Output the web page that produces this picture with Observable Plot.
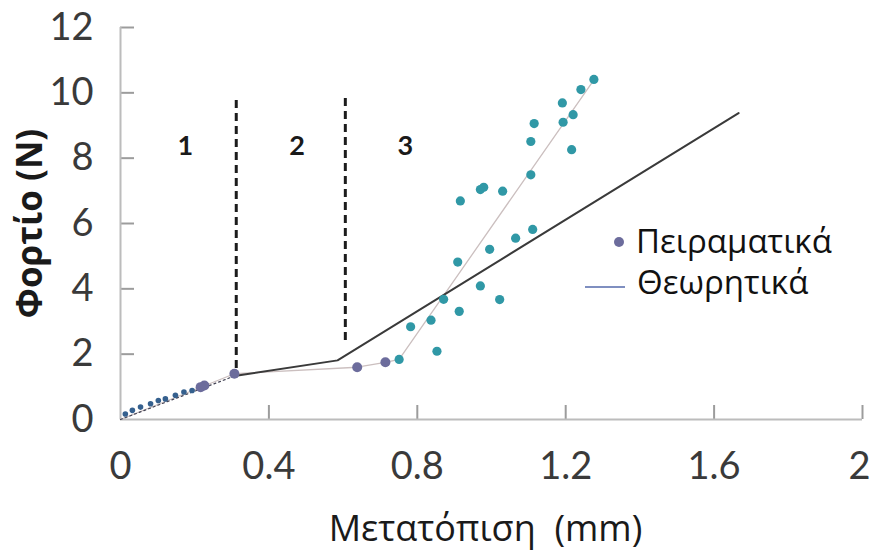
<!DOCTYPE html>
<html><head><meta charset="utf-8">
<script src="https://cdn.jsdelivr.net/npm/d3@7"></script>
<script src="https://cdn.jsdelivr.net/npm/@observablehq/plot@0.6"></script>
<style>
body{margin:0;background:#fff}
#wrap{position:relative;width:870px;height:555px}
.lg{position:absolute;font-family:"Open Sans",sans-serif;font-size:33px;line-height:33px;color:#111;white-space:nowrap}
</style>
</head><body><div id="wrap"></div>
<script>
// ---- data ----
const xTicks = [0, 0.4, 0.8, 1.2, 1.6, 2];
const xTickLabels = ["0", "0.4", "0.8", "1.2", "1.6", "2"];
const yTicks = [0, 2, 4, 6, 8, 10, 12];

const expX = [1.276, 1.241, 1.191, 1.220, 1.193, 1.115, 1.106, 1.216, 1.106, 0.979, 0.970, 1.030, 0.916,
  1.111, 1.065, 0.995, 0.909, 0.970, 1.022, 0.871, 0.913, 0.837, 0.782, 0.853, 0.751,
  0.714, 0.638, 0.307, 0.226, 0.216,
  0.193, 0.171, 0.148, 0.121, 0.102, 0.081, 0.054, 0.032, 0.013];
const expY = [10.41, 10.10, 9.69, 9.33, 9.10, 9.06, 8.51, 8.26, 7.49, 7.11, 7.04, 6.99, 6.69,
  5.82, 5.55, 5.21, 4.82, 4.09, 3.67, 3.68, 3.31, 3.04, 2.84, 2.09, 1.84,
  1.75, 1.60, 1.40, 1.04, 0.99,
  0.89, 0.84, 0.74, 0.63, 0.58, 0.48, 0.38, 0.28, 0.17];
const expGroup = [
  "late","late","late","late","late","late","late","late","late","late","late","late","late",
  "late","late","late","late","late","late","late","late","late","late","late","late",
  "early","early","early","early","early",
  "small","small","small","small","small","small","small","small","small"];

const trendX = [0, 0.307, 0.638, 0.714, 0.751, 1.27];
const trendY = [0, 1.40, 1.60, 1.75, 1.84, 10.3];

const theoX = [0, 0.307, 0.585, 1.666];
const theoY = [0, 1.33, 1.81, 9.38];

const boundaryX = [0.312, 0.606];
const boundaryY1 = [1.56, 2.42];
const boundaryY2 = [9.83, 9.92];

const regionX = [0.175, 0.476, 0.768];
const regionY = [8.36, 8.36, 8.36];
const regionLabels = ["1", "2", "3"];

const legendLabels = ["Πειραματικά", "Θεωρητικά"];
const xTitle = "Μετατόπιση\u00a0 (mm)";
const yTitle = "Φορτίο (N)";

// ---- build ----
const exp = expX.map((x, i) => ({x, y: expY[i], g: expGroup[i]}));
const trend = trendX.map((x, i) => ({x, y: trendY[i]}));
const theo = theoX.map((x, i) => ({x, y: theoY[i], i}));
const bounds = boundaryX.map((x, i) => ({x, y1: boundaryY1[i], y2: boundaryY2[i]}));
const regions = regionX.map((x, i) => ({x, y: regionY[i], t: regionLabels[i]}));
const xLab = xTicks.map((x, i) => ({x, t: xTickLabels[i], last: i === xTicks.length - 1}));

const W = 870, H = 555, mL = 120, mR = 8, mT = 27, mB = 136;
const tickLen = 14;
const frameW = W - mL - mR, frameH = H - mT - mB;

const axisGray = "#bcbcbc";
const tickGray = "#9c9c9c";
const dotSize = {small: 2.8, early: 5, late: 4.6};
const tickFont = {fontSize: 38, fontFamily: "Lato", fill: "#3a3a3a", lineAnchor: "middle"};

const chart = Plot.plot({
  width: W, height: H,
  marginLeft: mL, marginRight: mR, marginTop: mT, marginBottom: mB,
  x: {domain: [0, 2], axis: null},
  y: {domain: [0, 12], axis: null},
  r: {type: "identity"},
  color: {domain: ["small", "early", "late"], range: ["#35608e", "#6c6c9c", "#3098a6"]},
  style: {background: "#fff"},
  marks: [
    // inward tick marks (frame-spanning rules shortened by insets)
    Plot.ruleX(xTicks.slice(1), {x: d => d, insetTop: frameH - tickLen, stroke: tickGray, strokeWidth: 2}),
    Plot.ruleY(yTicks.slice(1), {y: d => d, insetRight: frameW - tickLen, stroke: tickGray, strokeWidth: 2}),
    Plot.ruleY([0], {stroke: axisGray, strokeWidth: 2}),
    Plot.ruleX([0], {stroke: axisGray, strokeWidth: 2}),
    Plot.text(xLab.filter(d => !d.last), {x: "x", frameAnchor: "bottom", dy: 47, text: "t", ...tickFont}),
    Plot.text(xLab.filter(d => d.last), {x: "x", frameAnchor: "bottom", dy: 47, dx: -3, text: "t", ...tickFont}),
    Plot.text(yTicks, {y: d => d, frameAnchor: "left", dx: -27, text: d => String(d), textAnchor: "end", ...tickFont}),
    Plot.text([xTitle], {frameAnchor: "bottom", dy: 110, dx: -6, text: d => d, fontSize: 36, textAnchor: "middle",
      fontFamily: "Open Sans", fill: "#1a1a1a", lineAnchor: "middle"}),
    Plot.text([yTitle], {frameAnchor: "left", dx: -90, rotate: -90, text: d => d, fontSize: 35, textAnchor: "middle",
      fontWeight: "bold", fontFamily: "Open Sans", fill: "#1a1a1a", lineAnchor: "middle"}),
    Plot.ruleX(bounds, {x: "x", y1: "y1", y2: "y2", stroke: "#1c1c1c", strokeWidth: 3, strokeDasharray: "8,5"}),
    Plot.text(regions, {x: "x", y: "y", text: "t", fontSize: 27, fontWeight: "bold", fontFamily: "Lato", fill: "#1a1a1a"}),
    Plot.line(trend, {x: "x", y: "y", stroke: "#cbbfbf", strokeWidth: 1.3}),
    Plot.line(theo.filter(d => d.i <= 1), {x: "x", y: "y", stroke: "#445", strokeWidth: 1.2, strokeDasharray: "2,3"}),
    Plot.line(theo.filter(d => d.i >= 1), {x: "x", y: "y", stroke: "#3a3a3a", strokeWidth: 2}),
    Plot.dot(exp, {x: "x", y: "y", fill: "g", r: d => dotSize[d.g]})
  ]
});
const wrap = document.getElementById("wrap");
wrap.appendChild(chart);

// legend (inside plot area)
const lg1 = document.createElement("div");
lg1.className = "lg";
lg1.style.left = "614px"; lg1.style.top = "224px";
lg1.innerHTML = `<span style="display:inline-block;width:10px;height:10px;border-radius:50%;background:#6c6c9c;vertical-align:middle;margin-right:12px;position:relative;top:-2px"></span>${legendLabels[0]}`;
wrap.appendChild(lg1);
const lg2 = document.createElement("div");
lg2.className = "lg";
lg2.style.left = "585px"; lg2.style.top = "265px";
lg2.innerHTML = `<span style="display:inline-block;width:40px;height:1.5px;background:#7f8fc0;vertical-align:middle;margin-right:12px;position:relative;top:2px"></span>${legendLabels[1]}`;
wrap.appendChild(lg2);
</script>
</body></html>
